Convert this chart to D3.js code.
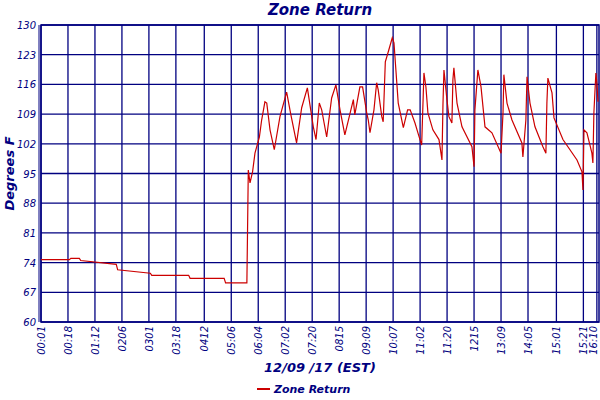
<!DOCTYPE html>
<html><head><meta charset="utf-8">
<script src="https://cdn.jsdelivr.net/npm/d3@7"></script>
<style>body{margin:0;background:#fff}text{font-family:"DejaVu Sans",sans-serif;fill:#000080;font-style:italic}</style>
</head><body><svg id="c" width="600" height="400"></svg>
<script>
const yTicks=[60,67,74,81,88,95,102,109,116,123,130];
const xTickPos=[0,19,38,57,76,95,115,134,153,172,191,210,229,248,267,286,305,324,343,363,382,391.5];
const xTickLabels=["00:01","00:18","01:12","0206","0301","03:18","0412","05:06","06:04","07:02","07:20","0815","09:09","10:07","11:02","11:20","1215","13:09","14:05","15:01","15:21","16:10"];
const sampleN=[0,20,21,27,28,53,54,77,78,104,105,129,130,145,146,147.2,149,150.7,153.8,155.4,157.7,159,161.3,164.3,168.3,173,176,180,183.6,187.6,191.8,193.7,196,197.7,201.2,204.7,207.7,210.6,214,220,221,224.6,226.5,229.4,230.5,231.7,234.5,236.4,237.5,240,241,241.8,242.5,244.6,247.4,248.6,249.8,251.6,255.2,258.2,260,263.4,266,268.1,269.7,271.1,272.5,276,280.3,281.7,282.4,283.1,283.8,285.9,287.3,289.4,290.1,290.8,293,296.5,303.5,305,305.6,307.7,309.9,312.7,317.6,324,325.4,326,328.2,331.7,338.7,339.4,341.5,342.3,344.4,347.9,353.5,355.6,356.3,357,359.9,361.3,367.6,377.5,381,381.7,382.4,384.5,388,388.7,389.4,390.8,391.5,392.3];
const zoneReturn=[74.7,74.7,75,75,74.5,73.6,72.3,71.5,71,71,70.3,70.3,69.2,69.2,95.8,92.8,95.4,99.8,103.6,107.6,111.9,111.6,105.3,100.6,108.4,114.2,108.8,102.2,110.5,115.2,106,103,111.6,110,103.6,112.8,115.9,110,104.1,112.4,108.8,115.4,115.4,109.3,107.6,104.6,110,116.4,114.7,108.4,107.2,114.7,121.3,123.7,127,125.8,120.1,111.6,105.8,110,110,106.9,104,101.7,118.7,115.4,109.3,105.3,103,99.8,98.2,111.2,119.4,112.4,108.4,106.9,117.1,119.9,111.6,106,101.3,96.6,110,119.4,115.4,106,104.6,99.8,109.3,118.3,111.6,107.6,102.2,98.9,107.6,117.8,111.6,106,101.3,99.8,111.6,117.5,114,108.1,103,98.2,95.4,91.1,105.3,104.6,99.8,97.5,109.3,118.7,116.4,111.9];
const L=41,R=599,T=25,B=322;
const svg=d3.select("#c");
const x=d3.scaleLinear().domain([0,393]).range([L,R]);
const y=d3.scaleLinear().domain([60,130]).range([B,T]);
const g=svg.append("g");
g.selectAll(".h").data(yTicks).join("line").attr("x1",L).attr("x2",R).attr("y1",d=>y(d)).attr("y2",d=>y(d)).attr("stroke","#000080").attr("stroke-width",1.3);
g.selectAll(".v").data(xTickPos).join("line").attr("y1",T).attr("y2",B).attr("x1",d=>x(d)).attr("x2",d=>x(d)).attr("stroke","#000080").attr("stroke-width",1.3);
g.append("rect").attr("x",L).attr("y",T).attr("width",R-L).attr("height",B-T).attr("fill","none").attr("stroke","#000080").attr("stroke-width",1.5);
g.append("line").attr("x1",L-2).attr("x2",L-2).attr("y1",T).attr("y2",B).attr("stroke","#000080");
svg.selectAll(".yl").data(yTicks).join("text").attr("x",L-5).attr("y",d=>y(d)+4).attr("text-anchor","end").attr("font-size",10).text(d=>d);
svg.selectAll(".xl").data(xTickPos).join("text").attr("transform",d=>`translate(${Math.min(x(d)+4,597)},${B+4}) rotate(-90)`).attr("text-anchor","end").attr("font-size",10).text((d,i)=>xTickLabels[i]);
const line=d3.line().x((d,i)=>x(sampleN[i])).y(d=>y(d));
svg.append("path").datum(zoneReturn).attr("d",line).attr("fill","none").attr("stroke","#cc0000").attr("stroke-width",1.2);
svg.append("text").attr("x",320).attr("y",15).attr("text-anchor","middle").attr("font-size",15).attr("font-weight","bold").text("Zone Return");
svg.append("text").attr("transform",`translate(14,${(T+B)/2}) rotate(-90)`).attr("text-anchor","middle").attr("font-size",13).attr("font-weight","bold").text("Degrees F");
svg.append("text").attr("x",320).attr("y",372).attr("text-anchor","middle").attr("font-size",13).attr("font-weight","bold").text("12/09 /17 (EST)");
svg.append("line").attr("x1",257).attr("x2",270).attr("y1",389).attr("y2",389).attr("stroke","#cc0000").attr("stroke-width",2);
svg.append("text").attr("x",274).attr("y",393).attr("font-size",11).attr("font-weight","bold").text("Zone Return");
</script></body></html>
